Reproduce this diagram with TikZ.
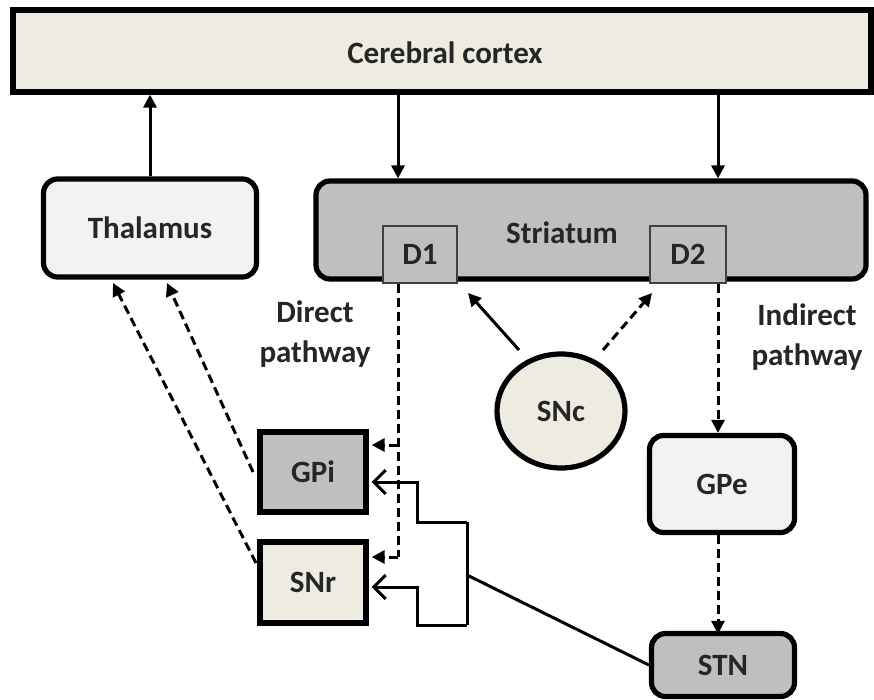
\documentclass[tikz,border=0pt]{standalone}
\usepackage{fontspec}
\setmainfont{Carlito}
\usetikzlibrary{arrows.meta,shapes.geometric}
\definecolor{beige}{HTML}{EEECE1}
\definecolor{midgray}{HTML}{BFBFBF}
\definecolor{palegray}{HTML}{F2F2F2}
\begin{document}
\begin{tikzpicture}[x=1pt,y=-1pt,
  lbl/.style={font=\fontsize{31}{40}\selectfont\bfseries, text=black!85},
  rbox/.style={draw, line width=5.2pt, rounded corners=14pt, lbl, inner sep=0pt},
  sbox/.style={draw, line width=5.2pt, lbl, inner sep=0pt},
  dbox/.style={draw=black!75, line width=1.4pt, fill=midgray, lbl, inner sep=0pt},
  conn/.style={line width=3pt},
  tip/.style={-{Triangle[length=13pt,width=13pt]}},
  dsh/.style={dash pattern=on 9pt off 5pt},
  barb/.style={-{Straight Barb[length=12pt,width=24pt,line width=3pt]}}
]
\useasboundingbox (0,0) rectangle (874,700);
\fill[white] (0,0) rectangle (874,700);

% nodes
\node[sbox, fill=beige, minimum width=858pt, minimum height=82pt] (cortex) at (442,51) {};
\node[lbl] (cortext) at (445,53) {Cerebral cortex};
\node[rbox, fill=palegray, minimum width=213pt, minimum height=98pt] (thal) at (150,228) {Thalamus};
\node[rbox, fill=midgray, minimum width=550pt, minimum height=98pt] (str) at (591,230) {};
\node[lbl] (strtext) at (562,233) {Striatum};
\node[dbox, minimum width=74pt, minimum height=57pt] (d1) at (420,254.5) {D1};
\node[dbox, minimum width=76pt, minimum height=57pt] (d2) at (688,254.5) {D2};
\node[sbox, fill=midgray, minimum width=106pt, minimum height=80pt] (gpi) at (313,472) {GPi};
\node[sbox, fill=beige, minimum width=106pt, minimum height=81pt] (snr) at (313,582.5) {SNr};
\node[draw, ellipse, line width=5.2pt, fill=beige, lbl, inner sep=0pt, minimum width=128pt, minimum height=114pt] (snc) at (561,411) {SNc};
\node[rbox, fill=palegray, minimum width=145pt, minimum height=97pt] (gpe) at (722,484) {GPe};
\node[rbox, fill=midgray, minimum width=143pt, minimum height=63pt] (stn) at (723,665) {STN};
\node[lbl, align=center] (direct) at (315,334) {Direct\\pathway};
\node[lbl, align=center] (indirect) at (807,337) {Indirect\\pathway};

% helper coordinates
\coordinate (xa) at (398,0);
\coordinate (xb) at (718,0);
\coordinate (j1) at (398,445);
\coordinate (j2) at (398,557);
\coordinate (s1) at (519,350);
\coordinate (t1) at (468,293);
\coordinate (s2) at (603,350);
\coordinate (t2) at (652,293);
\coordinate (ga) at (253,472);
\coordinate (ta) at (167,283);
\coordinate (gb) at (256,563);
\coordinate (tb) at (113,283);
\coordinate (ba) at (467,522);
\coordinate (bb) at (467,625);
\coordinate (bi) at (417,0);
\coordinate (ya) at (0,482);
\coordinate (yb) at (0,587);
\coordinate (bm) at (467,575);
\coordinate (ys) at (0,665);

% connectors
\draw[conn, tip] (thal.north) -- (thal.north |- cortex.south);
\draw[conn, tip] (cortex.south -| xa) -- (str.north -| xa);
\draw[conn, tip] (cortex.south -| xb) -- (str.north -| xb);

\draw[conn, tip] (s1) -- (t1);
\draw[conn, tip, dsh] (s2) -- (t2);

\draw[conn, dsh] (d1.south -| xa) -- (j2);
\draw[conn, dsh, tip] (j1) -- ([xshift=3pt]gpi.east |- j1);
\draw[conn, dsh, tip] (j2) -- ([xshift=3pt]snr.east |- j2);

\draw[conn, dsh, tip] (d2.south -| xb) -- (gpe.north -| xb);
\draw[conn, dsh, tip] (gpe.south -| xb) -- ([yshift=-3pt]stn.north -| xb);

\draw[conn, dsh, tip] (ga) -- (ta);
\draw[conn, dsh, tip] (gb) -- (tb);

\draw[conn] (ba) -- (bb);
\draw[conn, barb] (ba) -- (ba -| bi) -- (bi |- ya) -- ([xshift=3pt]gpi.east |- ya);
\draw[conn, barb] (bb) -- (bb -| bi) -- (bi |- yb) -- ([xshift=3pt]snr.east |- yb);
\draw[conn] (stn.west |- ys) -- (bm);
\end{tikzpicture}
\end{document}
